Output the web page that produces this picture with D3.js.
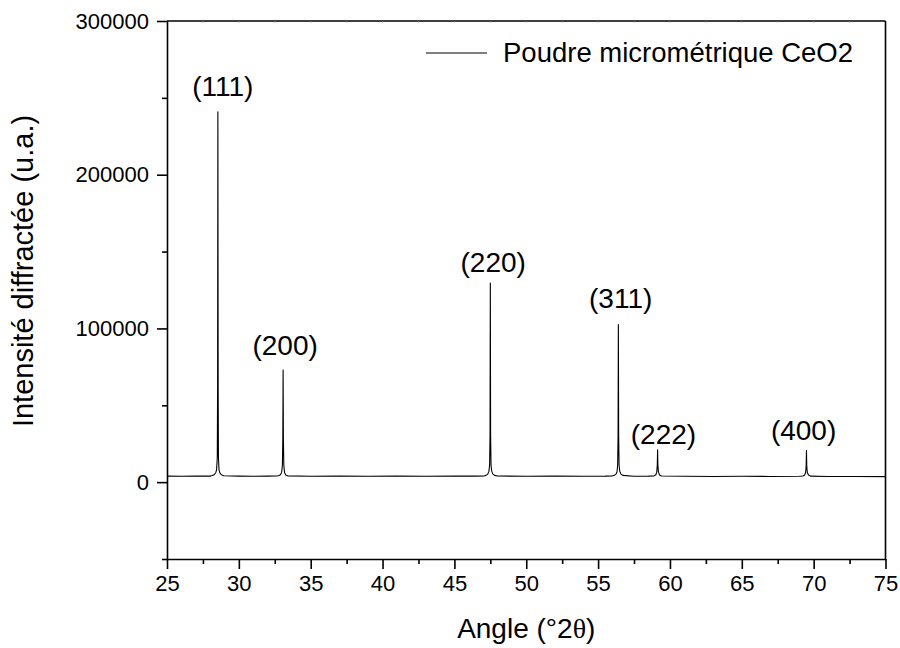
<!DOCTYPE html>
<html>
<head>
<meta charset="utf-8">
<script src="https://cdn.jsdelivr.net/npm/d3@7"></script>
<style>
  html, body { margin: 0; padding: 0; background: #fff; }
  svg { display: block; font-family: "Liberation Sans", Arial, sans-serif; }
</style>
</head>
<body>
<svg id="chart" width="900" height="648"></svg>
<script>
// ---- data ----
const angles = [
  25, 26, 27, 28,
  28.15, 28.3, 28.4, 28.45, 28.5, 28.52, 28.54, 28.56, 28.58, 28.62, 28.68, 28.78, 28.95,
  30, 31, 32, 32.6,
  32.75, 32.9, 32.98, 33.03, 33.06, 33.08, 33.1, 33.13, 33.18, 33.26, 33.4,
  35, 37, 39, 41, 43, 45, 46.5, 47.1,
  47.2, 47.32, 47.4, 47.45, 47.48, 47.5, 47.52, 47.55, 47.6, 47.68, 47.8, 48,
  50, 52, 54, 55.5, 56,
  56.12, 56.25, 56.32, 56.36, 56.39, 56.41, 56.43, 56.46, 56.51, 56.59, 56.72,
  57.5, 58.5,
  58.9, 59.02, 59.08, 59.12, 59.14, 59.16, 59.2, 59.28, 59.42,
  61, 63, 65, 67, 69,
  69.25, 69.38, 69.44, 69.48, 69.5, 69.52, 69.56, 69.64, 69.8,
  71, 73, 75
];
const intensity = [
  3900, 3800, 3900, 3900,
  4300, 5000, 6300, 8000, 16000, 60000, 241000, 60000, 16000, 8000, 6000, 4800, 4200,
  3900, 3800, 3900, 4000,
  4200, 4800, 6500, 11000, 28000, 73000, 28000, 11000, 6300, 4700, 4100,
  3800, 3900, 3800, 3900, 3800, 3900, 3900, 4100,
  4400, 5200, 7000, 11000, 30000, 129500, 30000, 11000, 7000, 5200, 4400, 4000,
  3800, 3900, 3800, 3900, 4100,
  4400, 5200, 7000, 11000, 30000, 102500, 30000, 11000, 7000, 5200, 4400,
  3800, 3900,
  4100, 4800, 6500, 11000, 21000, 11000, 6500, 4700, 4000,
  3800, 3700, 3800, 3700, 3800,
  4000, 4700, 6300, 10500, 20500, 10500, 6300, 4600, 3900,
  3700, 3700, 3600
];
const peakLabels = ["(111)", "(200)", "(220)", "(311)", "(222)", "(400)"];
const labelAngles = [28.88, 33.22, 47.7, 56.57, 59.55, 69.3];
const labelIntensities = [251300, 82800, 136600, 113200, 25100, 27700];

const xMajorTicks = [25, 30, 35, 40, 45, 50, 55, 60, 65, 70, 75];
const xMinorTicks = [27.5, 32.5, 37.5, 42.5, 47.5, 52.5, 57.5, 62.5, 67.5, 72.5];
const yMajorTicks = [0, 100000, 200000, 300000];
const yMinorTicks = [-50000, 50000, 150000, 250000];

const xTitle = "Angle (°2";
const xTitleSymbol = "θ";
const yTitle = "Intensité diffractée (u.a.)";
const legendLabel = "Poudre micrométrique CeO2";

// ---- layout ----
const svg = d3.select("#chart");
const mLeft = 167, mRight = 885.5, mTop = 21, mBottom = 559;
const fontMain = "'Liberation Sans', Arial, sans-serif";

const x = d3.scaleLinear().domain([25, 75]).range([mLeft, mRight]);
const y = d3.scaleLinear().domain([-50000, 300000]).range([mBottom, mTop]);

const points = angles.map((a, i) => [a, intensity[i]]);

// trace
svg.append("path")
  .datum(points)
  .attr("fill", "none")
  .attr("stroke", "#000")
  .attr("stroke-width", 1.1)
  .attr("stroke-linejoin", "round")
  .attr("d", d3.line().x(d => x(d[0])).y(d => y(d[1])));

// frame (top and right)
svg.append("line").attr("x1", mLeft).attr("x2", mRight).attr("y1", mTop).attr("y2", mTop)
  .attr("stroke", "#000").attr("stroke-width", 1.6);
svg.append("line").attr("x1", mRight).attr("x2", mRight).attr("y1", mTop).attr("y2", mBottom)
  .attr("stroke", "#000").attr("stroke-width", 1.6);

// top tiny inward ticks
svg.append("g").selectAll("line").data(xMinorTicks.concat(xMajorTicks.slice(1, -1))).join("line")
  .attr("x1", d => x(d)).attr("x2", d => x(d))
  .attr("y1", mTop).attr("y2", mTop + 1.5)
  .attr("stroke", "#777").attr("stroke-width", 1);

// bottom axis
const xAxis = d3.axisBottom(x).tickValues(xMajorTicks).tickFormat(d3.format("d"))
  .tickSizeInner(10).tickSizeOuter(0).tickPadding(6);
const gx = svg.append("g").attr("transform", `translate(0,${mBottom})`).call(xAxis);
gx.select(".domain").attr("stroke-width", 1.6);
gx.selectAll(".tick line").attr("stroke-width", 1.6);
gx.selectAll("text").attr("font-size", 22).attr("font-family", fontMain).attr("fill", "#000");
svg.append("g").attr("transform", `translate(0,${mBottom})`)
  .call(d3.axisBottom(x).tickValues(xMinorTicks).tickSize(5).tickFormat(""))
  .call(g => g.select(".domain").remove())
  .selectAll(".tick line").attr("stroke-width", 1.6);

// left axis
const yAxis = d3.axisLeft(y).tickValues(yMajorTicks).tickFormat(d3.format("d"))
  .tickSizeInner(10).tickSizeOuter(0).tickPadding(8);
const gy = svg.append("g").attr("transform", `translate(${mLeft},0)`).call(yAxis);
gy.select(".domain").attr("stroke-width", 1.6);
gy.selectAll(".tick line").attr("stroke-width", 1.6);
gy.selectAll("text").attr("font-size", 22).attr("font-family", fontMain).attr("fill", "#000");
svg.append("g").attr("transform", `translate(${mLeft},0)`)
  .call(d3.axisLeft(y).tickValues(yMinorTicks).tickSize(5).tickFormat(""))
  .call(g => g.select(".domain").remove())
  .selectAll(".tick line").attr("stroke-width", 1.6);

// peak labels
svg.append("g").selectAll("text").data(peakLabels).join("text")
  .attr("x", (d, i) => x(labelAngles[i]))
  .attr("y", (d, i) => y(labelIntensities[i]))
  .attr("text-anchor", "middle")
  .attr("font-family", fontMain)
  .attr("font-size", 28)
  .attr("fill", "#000")
  .text(d => d);

// axis titles
const xt = svg.append("text")
  .attr("x", (mLeft + mRight) / 2).attr("y", 638)
  .attr("text-anchor", "middle").attr("font-family", fontMain).attr("font-size", 28).attr("fill", "#000");
xt.append("tspan").text(xTitle);
xt.append("tspan").attr("font-family", "'Liberation Serif', 'Times New Roman', serif").text(xTitleSymbol);
xt.append("tspan").text(")");

svg.append("text")
  .attr("transform", "translate(33,271) rotate(-90)")
  .attr("text-anchor", "middle").attr("font-family", fontMain).attr("font-size", 29).attr("fill", "#000")
  .text(yTitle);

// legend
svg.append("line").attr("x1", 426).attr("x2", 487).attr("y1", 53).attr("y2", 53)
  .attr("stroke", "#000").attr("stroke-width", 1.1);
svg.append("text").attr("x", 503).attr("y", 62)
  .attr("font-family", fontMain).attr("font-size", 27.5).attr("fill", "#000").text(legendLabel);
</script>
</body>
</html>
